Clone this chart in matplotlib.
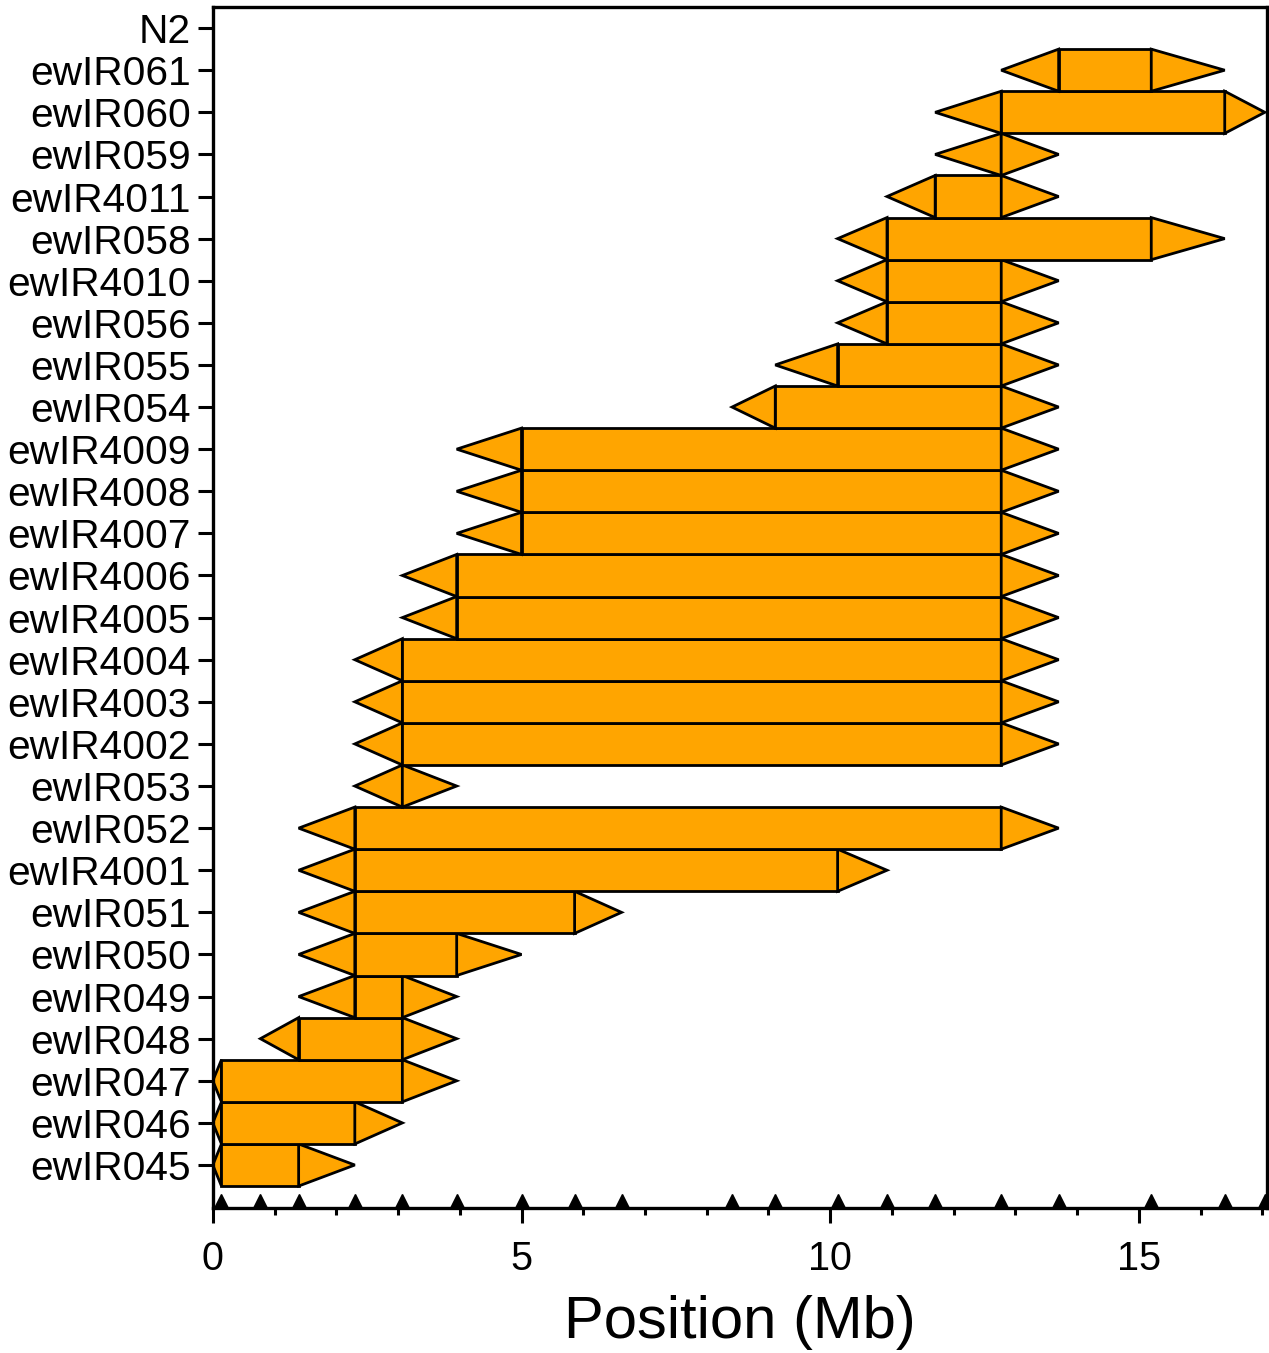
import matplotlib
matplotlib.use("Agg")
import matplotlib.pyplot as plt
from matplotlib.ticker import MultipleLocator

plt.rcParams['font.family'] = ['Liberation Sans', 'DejaVu Sans']

# strains, bottom row first
strains = ["ewIR045", "ewIR046", "ewIR047", "ewIR048", "ewIR049", "ewIR050",
           "ewIR051", "ewIR4001", "ewIR052", "ewIR053", "ewIR4002", "ewIR4003",
           "ewIR4004", "ewIR4005", "ewIR4006", "ewIR4007", "ewIR4008", "ewIR4009",
           "ewIR054", "ewIR055", "ewIR056", "ewIR4010", "ewIR058", "ewIR4011",
           "ewIR059", "ewIR060", "ewIR061", "N2"]

# genotyped marker positions (Mb)
markers = [0.14, 0.77, 1.39, 2.30, 3.07, 3.95, 5.00, 5.86, 6.62, 8.41, 9.11,
           10.12, 10.92, 11.70, 12.77, 13.70, 15.20, 16.39, 17.04]

# introgression intervals: outer flanking marker, inner boundary, inner boundary, outer flanking marker
left_flank = [0.0, 0.0, 0.0, 0.77, 1.39, 1.39, 1.39, 1.39, 1.39, 2.30, 2.30, 2.30,
              2.30, 3.07, 3.07, 3.95, 3.95, 3.95, 8.41, 9.11, 10.12, 10.12, 10.12,
              10.92, 11.70, 11.70, 12.77]
left_edge = [0.14, 0.14, 0.14, 1.39, 2.30, 2.30, 2.30, 2.30, 2.30, 3.07, 3.07, 3.07,
             3.07, 3.95, 3.95, 5.00, 5.00, 5.00, 9.11, 10.12, 10.92, 10.92, 10.92,
             11.70, 12.77, 12.77, 13.70]
right_edge = [1.39, 2.30, 3.07, 3.07, 3.07, 3.95, 5.86, 10.12, 12.77, 3.07, 12.77,
              12.77, 12.77, 12.77, 12.77, 12.77, 12.77, 12.77, 12.77, 12.77, 12.77,
              12.77, 15.20, 12.77, 12.77, 16.39, 15.20]
right_flank = [2.30, 3.07, 3.95, 3.95, 3.95, 5.00, 6.62, 10.92, 13.70, 3.95, 13.70,
               13.70, 13.70, 13.70, 13.70, 13.70, 13.70, 13.70, 13.70, 13.70, 13.70,
               13.70, 16.39, 13.70, 13.70, 17.04, 16.39]

fill = "#FFA500"
h = 0.5

fig = plt.figure(figsize=(12.69, 13.53), dpi=100)
ax = fig.add_axes([0.1677, 0.1072, 0.8305, 0.8876])

for i in range(len(left_edge)):
    a, b, c, d = left_flank[i], left_edge[i], right_edge[i], right_flank[i]
    ax.fill([a, b, b], [i, i + h, i - h], facecolor=fill, edgecolor="black", lw=2.0)
    ax.fill([b, c, c, b], [i - h, i - h, i + h, i + h], facecolor=fill,
            edgecolor="black", lw=2.0)
    ax.fill([c, d, c], [i - h, i, i + h], facecolor=fill, edgecolor="black", lw=2.0)

ax.plot(markers, [0.0058] * len(markers), ls="none", marker="^", ms=10,
        color="black", transform=ax.get_xaxis_transform(), clip_on=False)

ax.set_xlim(0, 17.07)
ax.set_ylim(-1.02, 27.5)
ax.set_yticks(range(len(strains)))
ax.set_yticklabels(strains)
ax.xaxis.set_major_locator(MultipleLocator(5))
ax.xaxis.set_minor_locator(MultipleLocator(1))

for s in ax.spines.values():
    s.set_linewidth(2.4)
ax.tick_params(axis="both", which="major", direction="out", length=11, width=2.2,
               pad=5)
ax.tick_params(axis="y", which="major", labelsize=29.3)
ax.tick_params(axis="x", which="major", labelsize=28.5, pad=12)
ax.tick_params(axis="x", which="minor", direction="out", length=5, width=2.2)

ax.set_xlabel("Position (Mb)", fontsize=43, labelpad=12)

plt.savefig("out.png", dpi=100)
